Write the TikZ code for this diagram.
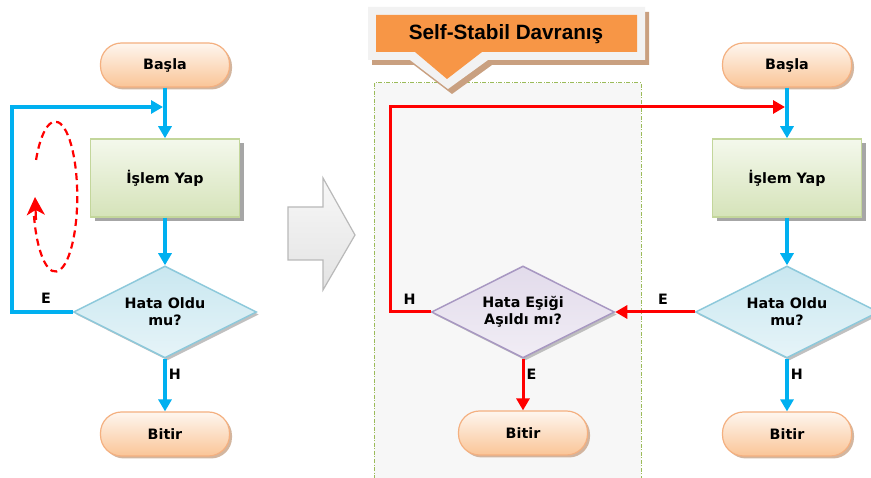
\documentclass[tikz,border=0pt]{standalone}
\usepackage{fontspec}
\setmainfont{DejaVu Sans}
\newfontfamily\calloutfont{Liberation Sans}
\usetikzlibrary{shapes.geometric,shadows,arrows.meta}

\definecolor{flowblue}{HTML}{00B0F0}
\definecolor{flowred}{HTML}{FF0000}
\definecolor{termedge}{HTML}{F4B080}
\definecolor{termtop}{HTML}{FEF6EF}
\definecolor{termbot}{HTML}{FAC597}
\definecolor{termshadow}{HTML}{C9A488}
\definecolor{procedge}{HTML}{C3D69B}
\definecolor{proctop}{HTML}{F4F8EC}
\definecolor{procbot}{HTML}{D5E3B9}
\definecolor{decedge}{HTML}{8DC9DB}
\definecolor{dectop}{HTML}{C9E7F0}
\definecolor{decbot}{HTML}{E6F4F8}
\definecolor{purpedge}{HTML}{A898C2}
\definecolor{purptop}{HTML}{E2DBEB}
\definecolor{purpbot}{HTML}{F1EDF5}
\definecolor{shadowgray}{HTML}{A6A6A6}
\definecolor{panelgreen}{HTML}{9BBB59}
\definecolor{panelfill}{HTML}{F7F7F7}
\definecolor{calloutorange}{HTML}{F79646}
\definecolor{calloutrim}{HTML}{F2F2F2}
\definecolor{calloutshadow}{HTML}{C9A080}

\newcommand{\nodefont}{\fontsize{14.3}{17}\selectfont\bfseries}

\tikzset{
  x=1pt, y=-1pt,
  boxshadow/.style={drop shadow={shadow xshift=4pt, shadow yshift=-4pt, fill=shadowgray, opacity=1}},
  softshadow/.style={drop shadow={shadow xshift=2.5pt, shadow yshift=-2.5pt, fill=termshadow, opacity=0.8}},
  greyshadow/.style={drop shadow={shadow xshift=2.5pt, shadow yshift=-2.5pt, fill=shadowgray, opacity=0.7}},
  term/.style={draw=termedge, line width=1.2pt, rounded corners=21pt,
    minimum width=129pt, minimum height=44pt, top color=termtop, bottom color=termbot,
    font=\nodefont, softshadow},
  proc/.style={draw=procedge, line width=1.5pt, minimum width=149pt, minimum height=78pt,
    top color=proctop, bottom color=procbot, font=\nodefont, boxshadow},
  decide/.style={diamond, draw=decedge, line width=1.5pt, aspect=2, inner sep=0pt,
    minimum width=183pt, minimum height=92pt, top color=dectop, bottom color=decbot,
    font=\nodefont, align=center, greyshadow},
  decidepurple/.style={decide, draw=purpedge, top color=purptop, bottom color=purpbot},
  blueflow/.style={draw=flowblue, line width=3.5pt,
    -{Triangle[width=13pt,length=12pt]}},
  redflow/.style={draw=flowred, line width=3pt,
    -{Triangle[width=13pt,length=12pt]}},
  lbl/.style={font=\nodefont, text=black, inner sep=2pt},
}

\begin{document}
\begin{tikzpicture}
\clip (0,0) rectangle (871,478);
\fill[white] (0,0) rectangle (871,478);

% ---------- left flowchart: plain loop ----------
\node[term]   (b1) at (165,65)  {Başla};
\node[proc]   (p1) at (165,178) {İşlem Yap};
\node[decide] (d1) at (165,312) {Hata Oldu\\mu?};
\node[term]   (e1) at (165,434) {Bitir};
\coordinate (lc) at (12,107);
\coordinate (j1) at (163,107);

\draw[blueflow] (b1) -- (p1);
\draw[blueflow] (p1) -- (d1);
\draw[blueflow] (d1) -- node[lbl, right, pos=0.3] {H} (e1);
\draw[blueflow, line width=4pt]
  (d1.west) -| node[lbl, above=4pt, pos=0.22] {E} (lc) -- (j1);

% circular motion hint
\draw[flowred, line width=2.2pt, dash pattern=on 7pt off 4.5pt]
  (34,216) arc[start angle=165, end angle=-152, x radius=22, y radius=75];
\draw[flowred, line width=2.2pt, -{Stealth[length=18pt,width=18pt,inset=5pt]}]
  (36,220) -- (35,197);

% ---------- transition arrow ----------
\draw[draw=gray!55, line width=1.2pt, top color=gray!6, bottom color=gray!22]
  (288,207) -- (323,207) -- (323,178) -- (355,235) -- (323,290) -- (323,260) -- (288,260) -- cycle;

% ---------- self-stabilising panel ----------
\draw[draw=panelgreen, fill=panelfill, line width=1pt,
      dash pattern=on 4pt off 1.5pt on 1pt off 1.5pt]
  (374,83) rectangle (641,484);

% callout heading
\fill[calloutshadow] (372,12) -- (649,12) -- (649,65) -- (492,65) -- (452,94)
  -- (414,65) -- (372,65) -- cycle;
\fill[calloutrim] (368,7) -- (645,7) -- (645,60) -- (488,60) -- (448,89)
  -- (410,60) -- (368,60) -- cycle;
\fill[calloutorange] (376,15) -- (637,15) -- (637,52) -- (482,52) -- (447,79)
  -- (415,52) -- (376,52) -- cycle;
\node[font=\calloutfont\bfseries\fontsize{20.7}{21}\selectfont] (callout) at (506,34)
  {Self-Stabil Davranış};

\node[decidepurple] (d2) at (523,312) {Hata Eşiği\\Aşıldı mı?};
\node[term]         (e2) at (523,433) {Bitir};

% ---------- right flowchart ----------
\node[term]   (b3) at (787,65)  {Başla};
\node[proc]   (p3) at (787,178) {İşlem Yap};
\node[decide] (d3) at (787,312) {Hata Oldu\\mu?};
\node[term]   (e3) at (787,434) {Bitir};
\coordinate (rc) at (390,107);
\coordinate (j3) at (785,107);

\draw[blueflow] (b3) -- (p3);
\draw[blueflow] (p3) -- (d3);
\draw[blueflow] (d3) -- node[lbl, right, pos=0.3] {H} (e3);

\draw[redflow] (d3.west) -- node[lbl, above=4pt, pos=0.4] {E} (d2.east);
\draw[redflow] (d2) -- node[lbl, right, pos=0.3] {E} (e2);
\draw[redflow] (d2.west) -| node[lbl, above=4pt, pos=0.26] {H} (rc) -- (j3);
\end{tikzpicture}
\end{document}
